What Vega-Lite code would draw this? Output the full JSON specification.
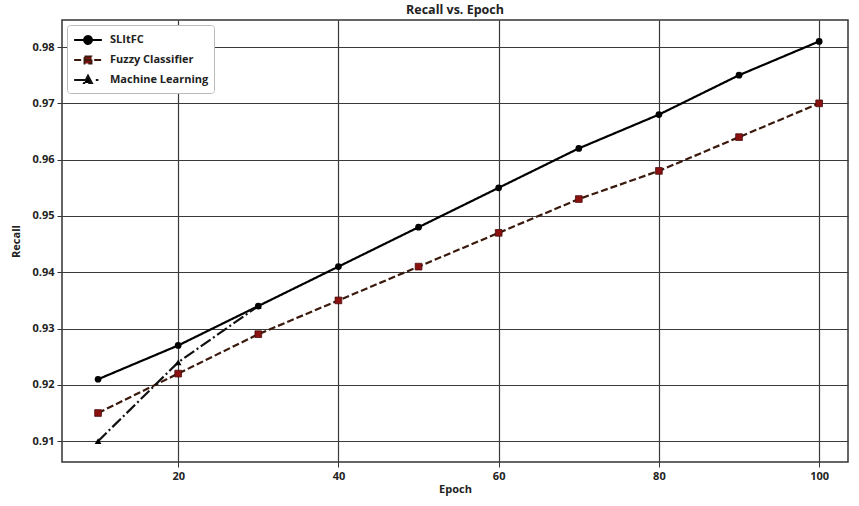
{
  "$schema": "https://vega.github.io/schema/vega-lite/v6.json",
  "width": 786,
  "height": 442,
  "autosize": {"type": "none"},
  "padding": {"left": 62, "top": 20, "right": 11, "bottom": 44},
  "background": "white",
  "title": {"text": "Recall vs. Epoch", "font": "Open Sans", "fontSize": 12.5, "fontWeight": "bold", "color": "#222", "offset": 4},
  "config": {
    "view": {"stroke": "#333", "strokeWidth": 1.5},
    "axis": {
      "labelFont": "Open Sans", "labelFontWeight": "bold", "labelFontSize": 11, "labelColor": "#222",
      "titleFont": "Open Sans", "titleFontWeight": "bold", "titleFontSize": 11, "titleColor": "#222",
      "gridColor": "#3a3a3a", "gridOpacity": 1, "gridWidth": 1.2,
      "tickColor": "#333", "tickSize": 5, "domain": false
    }
  },
  "data": {"values": [
    {"epoch": 10, "recall": 0.921, "series": "SLItFC"},
    {"epoch": 20, "recall": 0.927, "series": "SLItFC"},
    {"epoch": 30, "recall": 0.934, "series": "SLItFC"},
    {"epoch": 40, "recall": 0.941, "series": "SLItFC"},
    {"epoch": 50, "recall": 0.948, "series": "SLItFC"},
    {"epoch": 60, "recall": 0.955, "series": "SLItFC"},
    {"epoch": 70, "recall": 0.962, "series": "SLItFC"},
    {"epoch": 80, "recall": 0.968, "series": "SLItFC"},
    {"epoch": 90, "recall": 0.975, "series": "SLItFC"},
    {"epoch": 100, "recall": 0.981, "series": "SLItFC"},
    {"epoch": 10, "recall": 0.915, "series": "Fuzzy Classifier"},
    {"epoch": 20, "recall": 0.922, "series": "Fuzzy Classifier"},
    {"epoch": 30, "recall": 0.929, "series": "Fuzzy Classifier"},
    {"epoch": 40, "recall": 0.935, "series": "Fuzzy Classifier"},
    {"epoch": 50, "recall": 0.941, "series": "Fuzzy Classifier"},
    {"epoch": 60, "recall": 0.947, "series": "Fuzzy Classifier"},
    {"epoch": 70, "recall": 0.953, "series": "Fuzzy Classifier"},
    {"epoch": 80, "recall": 0.958, "series": "Fuzzy Classifier"},
    {"epoch": 90, "recall": 0.964, "series": "Fuzzy Classifier"},
    {"epoch": 100, "recall": 0.970, "series": "Fuzzy Classifier"},
    {"epoch": 10, "recall": 0.910, "series": "Machine Learning"},
    {"epoch": 20, "recall": 0.924, "series": "Machine Learning"},
    {"epoch": 30, "recall": 0.934, "series": "Machine Learning"}
  ]},
  "encoding": {
    "x": {"field": "epoch", "type": "quantitative", "title": "Epoch",
      "scale": {"domain": [5.5, 103.6], "nice": false, "zero": false},
      "axis": {"values": [20, 40, 60, 80, 100], "grid": true, "titlePadding": 2, "labelPadding": 3}},
    "y": {"field": "recall", "type": "quantitative", "title": "Recall",
      "scale": {"domain": [0.9063, 0.9848], "nice": false, "zero": false},
      "axis": {"values": [0.91, 0.92, 0.93, 0.94, 0.95, 0.96, 0.97, 0.98], "format": ".2f", "grid": true, "titlePadding": 10, "labelPadding": 3}}
  },
  "layer": [
    {
      "mark": {"type": "line", "strokeWidth": 2.2},
      "encoding": {
        "color": {"field": "series", "type": "nominal", "title": null,
          "scale": {"domain": ["SLItFC", "Fuzzy Classifier", "Machine Learning"], "range": ["#000000", "#3b1a0e", "#111111"]},
          "legend": {
            "orient": "top-left", "offset": 5, "padding": 5, "cornerRadius": 3,
            "fillColor": "white", "strokeColor": "#bbbbbb",
            "labelFont": "Open Sans", "labelFontWeight": "bold", "labelFontSize": 11, "labelColor": "#222",
            "symbolSize": 300, "symbolStrokeWidth": 2, "rowPadding": 2, "labelOffset": 12, "symbolOffset": 6,
            "encode": {"symbols": {"update": {
              "shape": {"signal": "datum.value === 'SLItFC' ? 'M-1.6,0H1.6M-0.45,0A0.45,0.45 0 1,1 0.45,0A0.45,0.45 0 1,1 -0.45,0Z' : (datum.value === 'Fuzzy Classifier' ? 'M-1.6,0H1.6M-0.4,-0.4H0.4V0.4H-0.4Z' : 'M-1.6,0H0.3M0,-0.5L0.45,0.35H-0.45ZM0.9,0H1.2')"},
              "fill": {"signal": "datum.value === 'Fuzzy Classifier' ? '#8b1010' : '#000000'"},
              "stroke": {"signal": "datum.value === 'Fuzzy Classifier' ? '#8b1010' : '#000000'"}
            }}}
          }},
        "strokeDash": {"field": "series", "type": "nominal", "legend": null,
          "scale": {"domain": ["SLItFC", "Fuzzy Classifier", "Machine Learning"], "range": [[1, 0], [7, 3], [12, 3, 2, 3]]}}
      }
    },
    {
      "transform": [{"filter": "datum.series === 'SLItFC'"}],
      "mark": {"type": "point", "shape": "circle", "filled": true, "opacity": 1, "size": 45, "color": "#000000"}
    },
    {
      "transform": [{"filter": "datum.series === 'Fuzzy Classifier'"}],
      "mark": {"type": "point", "shape": "square", "filled": true, "opacity": 1, "size": 45, "fill": "#8b1010", "stroke": "#4a0e0e", "strokeWidth": 0.8}
    },
    {
      "transform": [{"filter": "datum.series === 'Machine Learning'"}],
      "mark": {"type": "point", "shape": "triangle-up", "filled": true, "opacity": 1, "size": 45, "color": "#000000"}
    }
  ]
}
